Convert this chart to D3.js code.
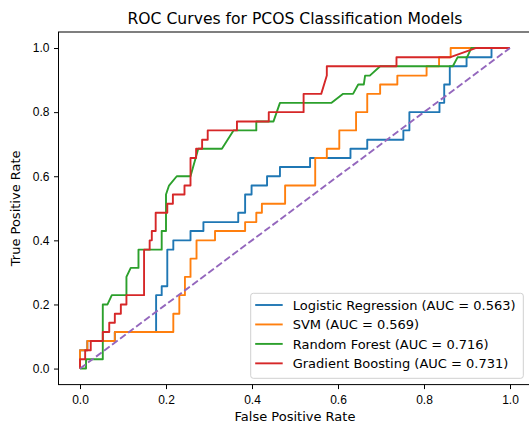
<!DOCTYPE html>
<html lang="en">
<head>
  <meta charset="UTF-8">
  <title>ROC Curves for PCOS Classification Models</title>
  <script src="https://d3js.org/d3.v7.min.js"></script>
  <style>
    body {
      margin: 0;
      background: #fff;
    }

    svg {
      display: block;
      font-family: "DejaVu Sans", sans-serif;
    }

    .axis line {
      stroke: #000;
      stroke-width: 1px;
    }

    .axis text {
      fill: #000;
      font-size: 12px;
    }

    .curve {
      fill: none;
      stroke-width: 1.9px;
      stroke-linejoin: round;
    }
  </style>
</head>
<body>
  <script>
    // model names, AUC scores and colours
    const models = ["Logistic Regression", "SVM", "Random Forest", "Gradient Boosting"];
    const aucs = [0.563, 0.569, 0.716, 0.731];
    const colors = ["#1f77b4", "#ff7f0e", "#2ca02c", "#d62728"];
    const tickValues = [0, 0.2, 0.4, 0.6, 0.8, 1.0];

    // ROC points [fpr, tpr]
    const lrRoc = [[0,0],[0,0.057],[0.017,0.057],[0.017,0.086],[0.081,0.086],[0.081,0.114],
      [0.177,0.114],[0.177,0.229],[0.19,0.229],[0.19,0.257],[0.203,0.257],[0.203,0.371],
      [0.217,0.371],[0.217,0.4],[0.257,0.4],[0.257,0.429],[0.287,0.429],[0.287,0.457],
      [0.368,0.457],[0.368,0.486],[0.384,0.486],[0.384,0.543],[0.399,0.543],[0.399,0.571],
      [0.435,0.571],[0.435,0.6],[0.465,0.6],[0.465,0.629],[0.535,0.629],[0.535,0.657],
      [0.629,0.657],[0.629,0.686],[0.668,0.686],[0.668,0.714],[0.752,0.714],[0.752,0.743],
      [0.766,0.743],[0.766,0.8],[0.836,0.8],[0.836,0.829],[0.847,0.829],[0.847,0.886],
      [0.86,0.886],[0.86,0.943],[0.899,0.943],[0.899,0.971],[0.957,0.971],[0.957,1],[1,1]];

    const svmRoc = [[0,0],[0,0.057],[0.017,0.057],[0.017,0.086],[0.081,0.086],[0.081,0.114],
      [0.217,0.114],[0.217,0.171],[0.231,0.171],[0.231,0.229],[0.244,0.229],[0.244,0.286],
      [0.257,0.286],[0.257,0.343],[0.271,0.343],[0.271,0.4],[0.314,0.4],[0.314,0.429],
      [0.384,0.429],[0.384,0.457],[0.41,0.457],[0.41,0.486],[0.423,0.486],[0.423,0.514],
      [0.477,0.514],[0.477,0.571],[0.547,0.571],[0.547,0.657],[0.574,0.657],[0.574,0.686],
      [0.603,0.686],[0.603,0.743],[0.642,0.743],[0.642,0.8],[0.668,0.8],[0.668,0.857],
      [0.698,0.857],[0.698,0.886],[0.738,0.886],[0.738,0.914],[0.806,0.914],[0.806,0.943],
      [0.835,0.943],[0.835,0.971],[0.862,0.971],[0.862,1],[1,1]];

    const rfRoc = [[0,0],[0.014,0],[0.014,0.029],[0.053,0.029],[0.053,0.2],[0.064,0.2],
      [0.074,0.229],[0.108,0.229],[0.108,0.286],[0.118,0.314],[0.136,0.314],[0.136,0.371],
      [0.19,0.371],[0.19,0.429],[0.2,0.429],[0.2,0.543],[0.207,0.571],[0.225,0.6],
      [0.257,0.6],[0.275,0.686],[0.33,0.686],[0.357,0.743],[0.41,0.743],[0.41,0.771],
      [0.45,0.771],[0.465,0.829],[0.585,0.829],[0.612,0.857],[0.635,0.857],[0.647,0.886],
      [0.66,0.886],[0.663,0.914],[0.674,0.914],[0.698,0.943],[0.867,0.943],[0.878,0.971],
      [0.9,0.971],[0.91,1],[1,1]];

    const gbRoc = [[0,0],[0,0.029],[0.012,0.029],[0.012,0.057],[0.025,0.057],[0.025,0.086],
      [0.053,0.086],[0.053,0.114],[0.068,0.114],[0.068,0.143],[0.081,0.143],[0.081,0.171],
      [0.095,0.171],[0.095,0.2],[0.108,0.2],[0.108,0.229],[0.149,0.229],[0.149,0.371],
      [0.162,0.371],[0.162,0.4],[0.167,0.4],[0.167,0.429],[0.176,0.429],[0.176,0.486],
      [0.203,0.486],[0.203,0.514],[0.216,0.514],[0.216,0.543],[0.243,0.543],[0.243,0.571],
      [0.257,0.571],[0.257,0.657],[0.27,0.657],[0.27,0.686],[0.284,0.686],[0.284,0.714],
      [0.297,0.714],[0.297,0.743],[0.365,0.743],[0.365,0.771],[0.439,0.771],[0.439,0.8],
      [0.52,0.8],[0.52,0.857],[0.561,0.857],[0.574,0.914],[0.574,0.943],[0.736,0.943],
      [0.736,0.971],[0.86,0.971],[0.92,1],[1,1]];

    const chance = [[0,0],[1,1]];
    const curves = [lrRoc, svmRoc, rfRoc, gbRoc];

    const width = 529;
    const height = 421;

    // axes box (matplotlib style, cropped figure)
    const box = {left: 58.5, right: 531.5, top: 32, bottom: 384.6};

    const svg = d3.select("body").append("svg")
      .attr("width", width)
      .attr("height", height);

    const xScale = d3.scaleLinear().domain([-0.05, 1.05]).range([box.left, box.right]);
    const yScale = d3.scaleLinear().domain([-0.05, 1.05]).range([box.bottom, box.top]);

    svg.append("clipPath").attr("id", "clip")
      .append("rect")
      .attr("x", box.left).attr("y", box.top)
      .attr("width", box.right - box.left).attr("height", box.bottom - box.top);

    // axes
    const xAxis = d3.axisBottom(xScale)
      .tickValues(tickValues).tickFormat(d3.format(".1f"))
      .tickSizeOuter(0).tickSize(4.5).tickPadding(6);
    const yAxis = d3.axisLeft(yScale)
      .tickValues(tickValues).tickFormat(d3.format(".1f"))
      .tickSizeOuter(0).tickSize(4.5).tickPadding(4.5);

    svg.append("g")
      .attr("class", "x axis")
      .attr("transform", `translate(0, ${box.bottom})`)
      .call(xAxis)
      .call(g => g.select(".domain").remove());

    svg.append("g")
      .attr("class", "y axis")
      .attr("transform", `translate(${box.left}, 0)`)
      .call(yAxis)
      .call(g => g.select(".domain").remove());

    svg.selectAll(".axis text").attr("font-family", null);

    // curves
    const line = d3.line()
      .x(d => xScale(d[0]))
      .y(d => yScale(d[1]));

    const plot = svg.append("g").attr("clip-path", "url(#clip)");

    plot.selectAll(".curve")
      .data(curves)
      .enter()
      .append("path")
      .attr("class", "curve")
      .attr("d", line)
      .style("stroke", (d, i) => colors[i]);

    plot.append("path")
      .attr("class", "curve")
      .attr("d", line(chance))
      .style("stroke", "#9467bd")
      .style("stroke-dasharray", "7,3");

    // spines
    svg.append("rect")
      .attr("x", box.left).attr("y", box.top)
      .attr("width", box.right - box.left).attr("height", box.bottom - box.top)
      .attr("fill", "none").attr("stroke", "#000").attr("stroke-width", 1);

    // title and labels
    svg.append("text")
      .attr("x", (box.left + box.right) / 2).attr("y", 24)
      .attr("text-anchor", "middle")
      .style("font-size", "15.6px")
      .text("ROC Curves for PCOS Classification Models");

    svg.append("text")
      .attr("x", (box.left + box.right) / 2).attr("y", 421)
      .attr("text-anchor", "middle")
      .style("font-size", "13px")
      .text("False Positive Rate");

    svg.append("text")
      .attr("transform", `translate(20, ${(box.top + box.bottom) / 2}) rotate(-90)`)
      .attr("text-anchor", "middle")
      .style("font-size", "13px")
      .text("True Positive Rate");

    // legend
    const legend = svg.append("g").attr("transform", "translate(250.7, 293.3)");

    legend.append("rect")
      .attr("width", 272.6).attr("height", 85)
      .attr("rx", 2.6)
      .attr("fill", "#fff").attr("fill-opacity", 0.8)
      .attr("stroke", "#d0d0d0").attr("stroke-width", 1);

    const rows = legend.selectAll(".row")
      .data(models)
      .enter()
      .append("g")
      .attr("class", "row")
      .attr("transform", (d, i) => `translate(0, ${11.7 + i * 19.45})`);

    rows.append("line")
      .attr("x1", 4.5).attr("x2", 32)
      .attr("stroke", (d, i) => colors[i])
      .attr("stroke-width", 1.9);

    rows.append("text")
      .attr("x", 42)
      .attr("y", 4.6)
      .style("font-size", "13px")
      .text((d, i) => `${d} (AUC = ${aucs[i].toFixed(3)})`);
  </script>
</body>
</html>
